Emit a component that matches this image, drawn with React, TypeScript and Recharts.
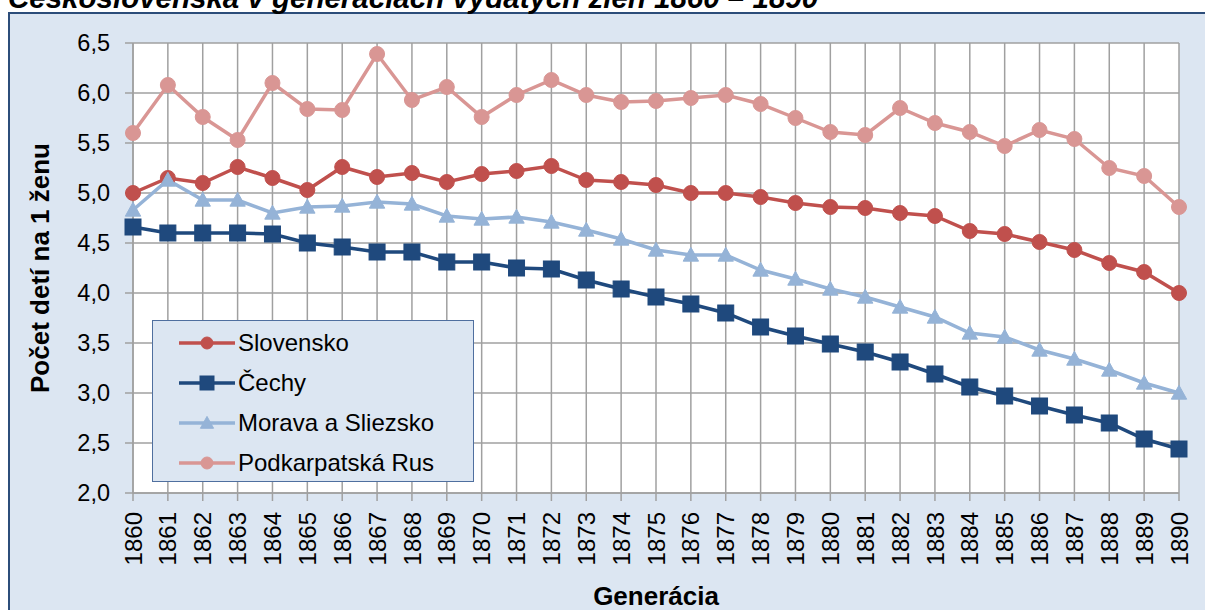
import React from "react";
import { LineChart, Line, XAxis, YAxis, CartesianGrid } from "recharts";

const years = [
  1860, 1861, 1862, 1863, 1864, 1865, 1866, 1867, 1868, 1869, 1870,
  1871, 1872, 1873, 1874, 1875, 1876, 1877, 1878, 1879, 1880,
  1881, 1882, 1883, 1884, 1885, 1886, 1887, 1888, 1889, 1890,
];

const slovensko = [
  5.0, 5.15, 5.1, 5.26, 5.15, 5.03, 5.26, 5.16, 5.2, 5.11, 5.19,
  5.22, 5.27, 5.13, 5.11, 5.08, 5.0, 5.0, 4.96, 4.9, 4.86,
  4.85, 4.8, 4.77, 4.62, 4.59, 4.51, 4.43, 4.3, 4.21, 4.0,
];
const cechy = [
  4.66, 4.6, 4.6, 4.6, 4.59, 4.5, 4.46, 4.41, 4.41, 4.31, 4.31,
  4.25, 4.24, 4.13, 4.04, 3.96, 3.89, 3.8, 3.66, 3.57, 3.49,
  3.41, 3.31, 3.19, 3.06, 2.97, 2.87, 2.78, 2.7, 2.54, 2.44,
];
const morava = [
  4.83, 5.13, 4.93, 4.93, 4.8, 4.86, 4.87, 4.91, 4.89, 4.77, 4.74,
  4.76, 4.71, 4.63, 4.54, 4.43, 4.38, 4.38, 4.23, 4.14, 4.04,
  3.96, 3.86, 3.76, 3.6, 3.56, 3.43, 3.34, 3.23, 3.1, 3.0,
];
const podkarpatska = [
  5.6, 6.08, 5.76, 5.53, 6.1, 5.84, 5.83, 6.39, 5.93, 6.06, 5.76,
  5.98, 6.13, 5.98, 5.91, 5.92, 5.95, 5.98, 5.89, 5.75, 5.61,
  5.58, 5.85, 5.7, 5.61, 5.47, 5.63, 5.54, 5.25, 5.17, 4.86,
];

const yTicks = [2.0, 2.5, 3.0, 3.5, 4.0, 4.5, 5.0, 5.5, 6.0, 6.5];

const series = [
  { key: "slovensko", name: "Slovensko", color: "#c0504d", shape: "circle" },
  { key: "cechy", name: "Čechy", color: "#1f497d", shape: "square" },
  { key: "morava", name: "Morava a Sliezsko", color: "#95b3d7", shape: "triangle" },
  { key: "podkarpatska", name: "Podkarpatská Rus", color: "#d99694", shape: "circle" },
];

const data = years.map((y, i) => ({
  year: y,
  slovensko: slovensko[i],
  cechy: cechy[i],
  morava: morava[i],
  podkarpatska: podkarpatska[i],
}));

const FONT = "'Liberation Sans', Arial, sans-serif";

function Marker({ cx, cy, shape, color, size }: any) {
  if (cx == null || cy == null) return null;
  if (shape === "square") {
    return <rect x={cx - size} y={cy - size} width={size * 2} height={size * 2} fill={color} stroke={color} />;
  }
  if (shape === "triangle") {
    const s = size * 1.1;
    return (
      <polygon
        points={`${cx},${cy - s} ${cx + s},${cy + s * 0.8} ${cx - s},${cy + s * 0.8}`}
        fill={color}
        stroke={color}
      />
    );
  }
  return <circle cx={cx} cy={cy} r={size} fill={color} stroke={color} />;
}

const fmt = (v: number) => v.toFixed(1).replace(".", ",");

function YearTick({ x, y, payload }: any) {
  const ty = y + 9;
  return (
    <text
      x={x}
      y={ty}
      transform={`rotate(-90, ${x}, ${ty})`}
      textAnchor="end"
      dy="0.36em"
      fontSize={24}
      fontFamily={FONT}
      fill="#000"
    >
      {payload.value}
    </text>
  );
}

// legend box sits over the plot, bottom-left
function LegendBox() {
  return (
    <div
      style={{
        position: "absolute",
        left: 152,
        top: 320,
        width: 322,
        height: 162,
        boxSizing: "border-box",
        border: "1.5px solid #4f6f9f",
        background: "#dce6f2",
        fontFamily: FONT,
      }}
    >
      {series.map((s, i) => (
        <div
          key={s.key}
          style={{ position: "absolute", left: 26, top: 22 + i * 40 - 16, height: 32, display: "flex", alignItems: "center" }}
        >
          <svg width={56} height={32}>
            <line x1={0} y1={16} x2={56} y2={16} stroke={s.color} strokeWidth={3.5} />
            <Marker cx={28} cy={16} shape={s.shape} color={s.color} size={s.shape === "square" ? 7 : 6} />
          </svg>
          <span style={{ fontSize: 24, color: "#000", marginLeft: 3, whiteSpace: "nowrap" }}>{s.name}</span>
        </div>
      ))}
    </div>
  );
}

export default function App() {
  return (
    <div style={{ position: "absolute", left: 0, top: 0, width: 1205, height: 610, overflow: "hidden", background: "#fff" }}>
      <div
        style={{
          position: "absolute",
          left: 8,
          top: 12,
          width: 1210,
          height: 620,
          boxSizing: "border-box",
          border: "2px solid #2c4d7a",
          background: "#dce6f2",
        }}
      />
      <div
        style={{
          position: "absolute",
          left: 8,
          top: -17,
          fontFamily: FONT,
          fontSize: 29.5,
          lineHeight: "29.5px",
          fontWeight: "bold",
          fontStyle: "italic",
          whiteSpace: "nowrap",
          color: "#000",
        }}
      >
        Československá v generáciách vydatých žien 1860 – 1890
      </div>
      <div style={{ position: "absolute", left: 0, top: 0 }}>
        <LineChart width={1205} height={610} data={data} margin={{ top: 43, right: 26, left: 0, bottom: 0 }}>
          <CartesianGrid stroke="#a0a0a0" strokeWidth={1.5} fill="#ffffff" />
          <XAxis
            dataKey="year"
            height={117}
            interval={0}
            tickSize={8}
            tickLine={{ stroke: "#a0a0a0", strokeWidth: 1.5 }}
            axisLine={{ stroke: "#a0a0a0", strokeWidth: 1.5 }}
            tick={<YearTick />}
            label={{
              value: "Generácia",
              position: "insideBottom",
              offset: 5,
              style: { fontFamily: FONT, fontSize: 26, fontWeight: "bold", fill: "#000" },
            }}
          />
          <YAxis
            width={133}
            domain={[2, 6.5]}
            ticks={yTicks}
            interval={0}
            tickSize={8}
            tickMargin={15}
            tickFormatter={fmt}
            tickLine={{ stroke: "#a0a0a0", strokeWidth: 1.5 }}
            axisLine={{ stroke: "#a0a0a0", strokeWidth: 1.5 }}
            tick={{ fontSize: 23.5, fontFamily: FONT, fill: "#000" }}
            label={{
              value: "Počet detí na 1 ženu",
              angle: -90,
              position: "insideLeft",
              offset: 40,
              style: { fontFamily: FONT, fontSize: 26, fontWeight: "bold", fill: "#000", textAnchor: "middle" },
            }}
          />
          {series.map((s) => (
            <Line
              key={s.key}
              dataKey={s.key}
              name={s.name}
              stroke={s.color}
              strokeWidth={3.5}
              isAnimationActive={false}
              dot={(p: any) => (
                <Marker key={`${s.key}-${p.index}`} cx={p.cx} cy={p.cy} shape={s.shape} color={s.color}
                  size={s.shape === "square" ? 8 : s.shape === "triangle" ? 7 : 7.5} />
              )}
              activeDot={false}
            />
          ))}
        </LineChart>
      </div>
      <LegendBox />
    </div>
  );
}
